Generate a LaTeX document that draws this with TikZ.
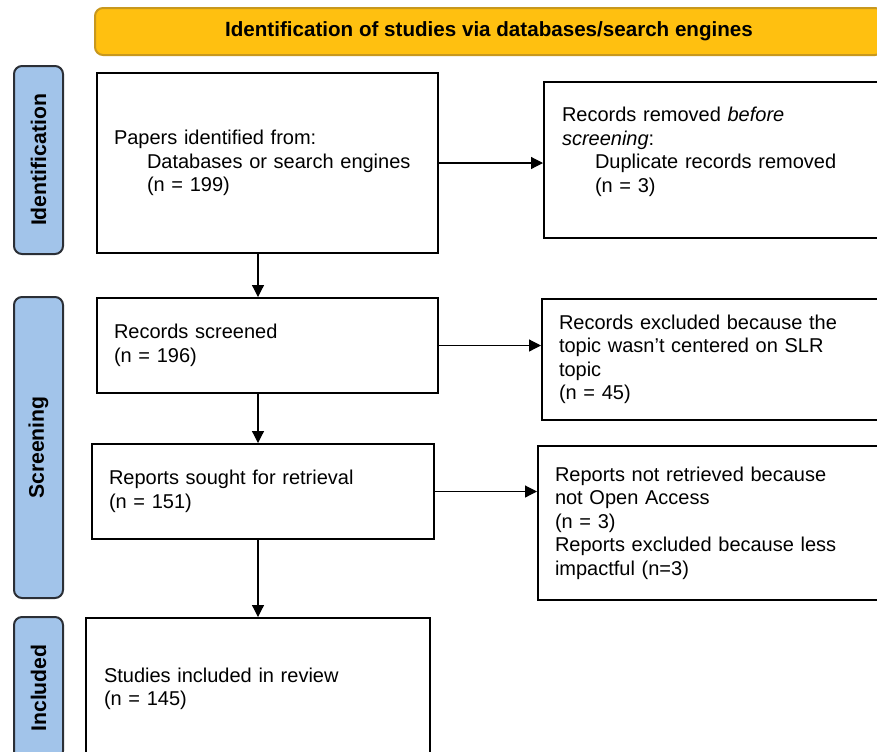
\documentclass[tikz,border=0pt]{standalone}
\usepackage{fontspec}
\setmainfont{Liberation Sans}
\usepackage{tikz}
\usetikzlibrary{arrows.meta, calc}
\definecolor{bannerfill}{HTML}{FFC010}
\definecolor{bannerline}{HTML}{C8981E}
\definecolor{phasefill}{HTML}{A2C4EA}
\definecolor{phaseline}{HTML}{2B2F36}
\tikzstyle{banner}=[draw=bannerline, fill=bannerfill, line width=1pt, rounded corners=4pt, font=\fontsize{10.3}{12}\selectfont\bfseries]
\tikzstyle{phase}=[draw=phaseline, fill=phasefill, line width=1pt, rounded corners=4pt, rotate=90, minimum height=24.5pt, font=\fontsize{10.6}{12}\selectfont\bfseries]
\tikzstyle{record}=[draw, line width=1pt, rectangle, anchor=north west, align=left, inner xsep=8.5pt, font=\fontsize{10}{11.75}\selectfont]
\tikzstyle{arrow}=[-{Triangle[length=6pt, width=6pt]}, line width=0.6pt]
\newcommand{\indentline}{\hspace*{16.5pt}}

\begin{document}
\begin{tikzpicture}[x=0.5pt, y=-0.5pt]
      \clip (0,0) rectangle (877,751);

      \node[banner, minimum width=394pt, minimum height=23.5pt] (banner) at (489,31.5) {Identification of studies via databases/search engines};

      \node[phase, minimum width=94pt] (identification) at (38.5,160) {Identification};
      \node[phase, minimum width=150.5pt] (screening) at (38.5,447.5) {Screening};
      \node[phase, minimum width=71pt] (included) at (38.5,688) {Included};

      \node[record, text width=153.5pt, minimum height=90pt] (identified) at (96,72) {Papers identified from:\\\indentline Databases or search engines\\\indentline (n = 199)};
      % text sits a little above the middle of this box
      \node[record, text width=170pt, minimum height=78pt, inner xsep=9pt, text depth=45.4pt] (removed) at (543,81) {Records removed \textit{before}\\\textit{screening}:\\\indentline Duplicate records removed\\\indentline (n = 3)};
      \node[record, text width=153.5pt, minimum height=47.5pt] (screened) at (96,297) {Records screened\\(n = 196)};
      \node[record, text width=170pt, minimum height=60.5pt] (excluded) at (541,298) {Records excluded because the\\topic wasn't centered on SLR\\topic\\(n = 45)};
      \node[record, text width=154pt, minimum height=47.5pt] (sought) at (91,443) {Reports sought for retrieval\\(n = 151)};
      \node[record, text width=170pt, minimum height=77pt] (notretrieved) at (537,445) {Reports not retrieved because\\not Open Access\\(n = 3)\\Reports excluded because less\\impactful (n=3)};
      \node[record, text width=154pt, minimum height=71pt, inner xsep=9pt] (studies) at (85,617) {Studies included in review\\(n = 145)};

      \coordinate (spine) at (258,0);

      \draw[arrow] (identified.east) -- (identified.east -| removed.west);
      \draw[arrow] (screened.east) -- (screened.east -| excluded.west);
      \draw[arrow] (sought.east) -- (sought.east -| notretrieved.west);
      \draw[arrow] (identified.south -| spine) -- (screened.north -| spine);
      \draw[arrow] (screened.south -| spine) -- (sought.north -| spine);
      \draw[arrow] (sought.south -| spine) -- (studies.north -| spine);
    \end{tikzpicture}
\end{document}
